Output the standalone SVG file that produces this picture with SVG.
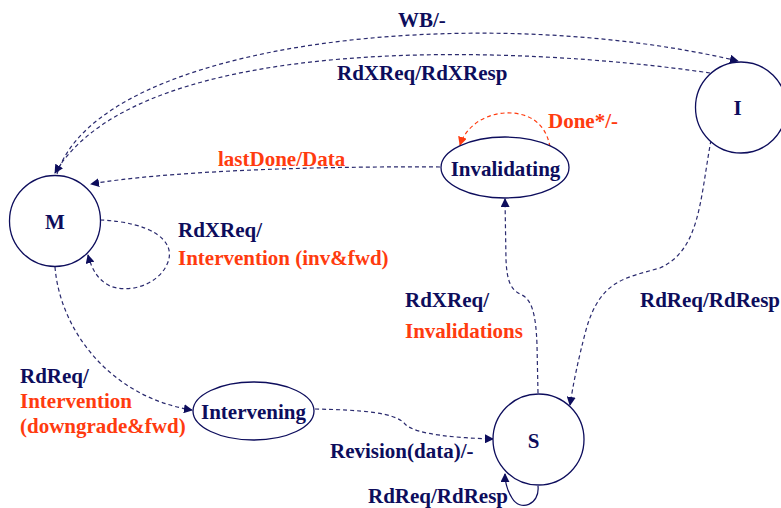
<svg xmlns="http://www.w3.org/2000/svg" width="781" height="508" viewBox="0 0 781 508">
  <style>
    .state { fill: #ffffff; stroke: #0d0d5c; stroke-width: 1.3; }
    .lbl { font-family: "Liberation Serif", "Times New Roman", serif; font-weight: bold; font-size: 21px; }
    .navy { fill: #0d0d5c; }
    .red { fill: #ff3b0f; }
    .edge { fill: none; stroke: #2a2a6e; stroke-width: 1.2; stroke-dasharray: 4 3; }
    .edge-red { fill: none; stroke: #ff3b0f; stroke-width: 1.2; stroke-dasharray: 4 3; }
  </style>
  <defs>
    <marker id="arr" viewBox="0 0 10 10" refX="9" refY="5" markerWidth="9" markerHeight="9" markerUnits="userSpaceOnUse" orient="auto">
      <path d="M0,0 L10,5 L0,10 z" fill="#0d0d5c"/>
    </marker>
    <marker id="arr-red" viewBox="0 0 10 10" refX="9" refY="5" markerWidth="9" markerHeight="9" markerUnits="userSpaceOnUse" orient="auto">
      <path d="M0,0 L10,5 L0,10 z" fill="#ff3b0f"/>
    </marker>
  </defs>

  <rect width="781" height="508" fill="#ffffff"/>

  <!-- transitions -->
  <g id="connectors">
    <!-- M -> I : WB/- -->
    <path class="edge" d="M 57 174 C 100 40, 480 0, 738 61" marker-end="url(#arr)"/>
    <!-- I -> M : RdXReq/RdXResp -->
    <path class="edge" d="M 710 73 C 520 45, 140 30, 55 173" marker-end="url(#arr)"/>
    <!-- Invalidating -> M : lastDone/Data -->
    <path class="edge" d="M 440 167 C 300 166, 160 172, 91 184" marker-end="url(#arr)"/>
    <!-- Invalidating self loop : Done*/- -->
    <path class="edge-red" d="M 550 147 C 545 118, 522 112, 505 113 C 485 114, 466 126, 460 145" marker-end="url(#arr-red)"/>
    <!-- M self loop : RdXReq/Intervention -->
    <path class="edge" d="M 100 220 C 150 222, 176 240, 168 262 C 160 284, 130 294, 110 286 C 98 280, 92 270, 88 255" marker-end="url(#arr)"/>
    <!-- M -> Intervening : RdReq/Intervention -->
    <path class="edge" d="M 55 267 C 60 330, 110 397, 192 410" marker-end="url(#arr)"/>
    <!-- Intervening -> S : Revision(data)/- -->
    <path class="edge" d="M 315 409 C 360 410, 395 412, 405 424 C 415 435, 460 438, 493 439" marker-end="url(#arr)"/>
    <!-- S -> Invalidating : RdXReq/Invalidations -->
    <path class="edge" d="M 538 393 L 537 345 C 536 315, 532 300, 522 295 C 510 290, 507 280, 506 260 L 505 199" marker-end="url(#arr)"/>
    <!-- I -> S : RdReq/RdResp -->
    <path class="edge" d="M 711 140 C 700 200, 700 250, 660 268 C 625 278, 600 280, 586 330 C 578 360, 573 385, 570 405" marker-end="url(#arr)"/>
    <!-- S self loop : RdReq/RdResp -->
    <path d="M 538 486 C 540 505, 520 512, 512 498 C 507 490, 505 484, 505 474" fill="none" stroke="#0d0d5c" stroke-width="1.2" marker-end="url(#arr)"/>
  </g>

  <!-- states -->
  <g id="state-M">
    <circle class="state" cx="55" cy="221" r="45.5"/>
    <text class="lbl navy" x="55" y="229" text-anchor="middle">M</text>
  </g>
  <g id="state-I">
    <circle class="state" cx="741" cy="107.5" r="45.5"/>
    <text class="lbl navy" x="737.5" y="115" text-anchor="middle">I</text>
  </g>
  <g id="state-S">
    <circle class="state" cx="538.5" cy="439.5" r="45.5"/>
    <text class="lbl navy" x="533.5" y="448" text-anchor="middle">S</text>
  </g>
  <g id="state-Invalidating">
    <ellipse class="state" cx="505" cy="167.5" rx="64" ry="30.5"/>
    <text class="lbl navy" x="505.5" y="175.5" text-anchor="middle">Invalidating</text>
  </g>
  <g id="state-Intervening">
    <ellipse class="state" cx="253.5" cy="411" rx="60.5" ry="29"/>
    <text class="lbl navy" x="253.5" y="418.5" text-anchor="middle">Intervening</text>
  </g>

  <!-- transition labels -->
  <g id="labels">
    <text class="lbl navy" x="398" y="27">WB/-</text>
    <text class="lbl navy" x="337" y="80">RdXReq/RdXResp</text>
    <text class="lbl red" x="548" y="128">Done*/-</text>
    <text class="lbl red" x="218" y="166">lastDone/Data</text>
    <text class="lbl navy" x="178" y="237">RdXReq/</text>
    <text class="lbl red" x="178" y="265">Intervention (inv&amp;fwd)</text>
    <text class="lbl navy" x="405" y="307">RdXReq/</text>
    <text class="lbl red" x="405" y="338">Invalidations</text>
    <text class="lbl navy" x="640" y="307">RdReq/RdResp</text>
    <text class="lbl navy" x="20" y="383">RdReq/</text>
    <text class="lbl red" x="20" y="408">Intervention</text>
    <text class="lbl red" x="20" y="433">(downgrade&amp;fwd)</text>
    <text class="lbl navy" x="330" y="458">Revision(data)/-</text>
    <text class="lbl navy" x="368" y="503">RdReq/RdResp</text>
  </g>
</svg>
